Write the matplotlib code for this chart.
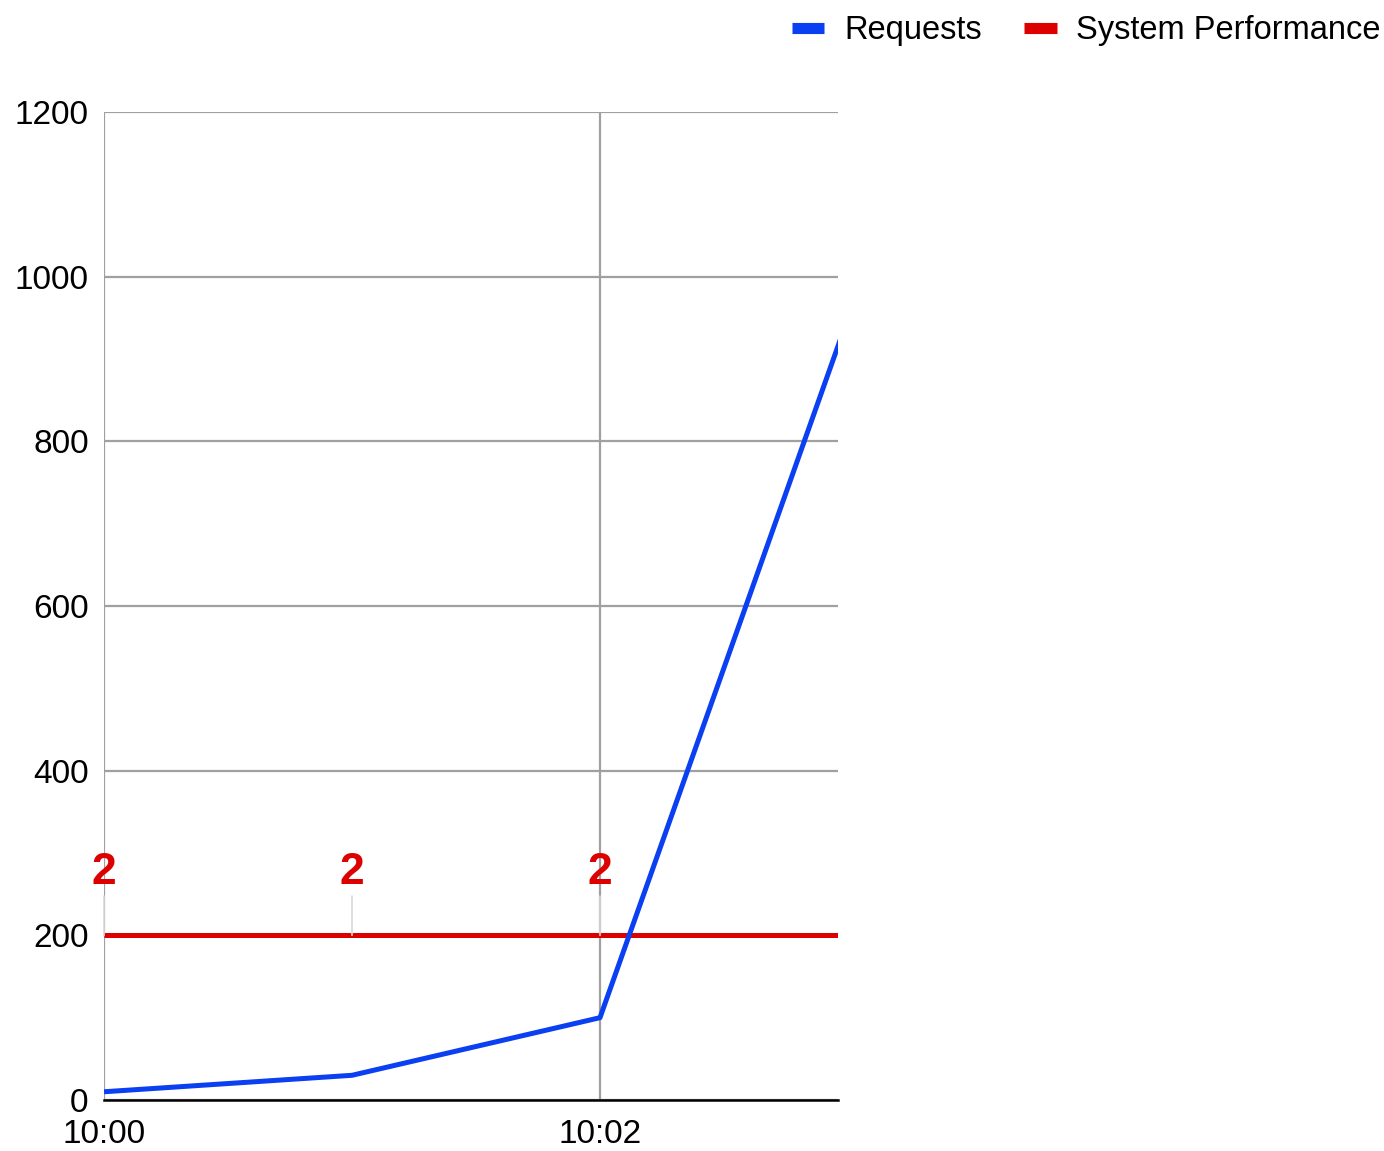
import matplotlib
matplotlib.use("Agg")
import matplotlib.pyplot as plt
from matplotlib.lines import Line2D
from matplotlib.ticker import FixedLocator, FuncFormatter

plt.rcParams['font.family'] = ['Liberation Sans', 'DejaVu Sans']

# 数据
times = ["10:00", "10:01", "10:02", "10:03"]
requests = [10, 30, 100, 950]
performance = [2, 2, 2, 2]
perf_labels = ["2", "2", "2", "2"]
PERF_SCALE = 100          # 性能分按 x100 画在请求数的刻度上
y_ticks = [0, 200, 400, 600, 800, 1000, 1200]
x_tick_labels = ["10:00", "10:02"]

BLUE = "#0a3ff2"
RED = "#dd0000"
GRID = "#a0a0a0"


def to_min(t):
    h, m = t.split(":")
    return (int(h) - 10) * 60 + int(m)


xs = [to_min(t) for t in times]
perf_y = [p * PERF_SCALE for p in performance]

fig = plt.figure(figsize=(13.84, 11.51), dpi=100)
ax = fig.add_axes([104 / 1384, 51 / 1151, 734 / 1384, 988 / 1151])

ax.plot(xs, requests, color=BLUE, lw=3.6, solid_capstyle="butt", zorder=4)
ax.plot(xs, perf_y, color=RED, lw=3.6, solid_capstyle="butt", zorder=3)

# 数值标签 + 引线
for x, y, lab in zip(xs, perf_y, perf_labels):
    ax.annotate(lab, xy=(x, y), xytext=(0, 45), textcoords="offset points",
                ha="center", va="center", fontsize=32, fontweight="bold",
                color=RED, zorder=5,
                arrowprops=dict(arrowstyle="-", color="#d8d8d8", lw=1.2,
                                shrinkA=0, shrinkB=0))

ax.set_xlim(0, 734 / 248)
ax.set_ylim(0, 1200)

ax.yaxis.set_major_locator(FixedLocator(y_ticks))
ax.xaxis.set_major_locator(FixedLocator([to_min(t) for t in x_tick_labels]))
ax.xaxis.set_major_formatter(FuncFormatter(lambda v, p: "10:%02d" % int(round(v))))
ax.tick_params(axis="both", length=0, labelsize=24, colors="black")
ax.tick_params(axis="y", pad=11)
ax.tick_params(axis="x", pad=14)

ax.grid(True, color=GRID, lw=1.6)
ax.set_axisbelow(True)
for s in ["top", "right", "left"]:
    ax.spines[s].set_visible(False)
ax.spines["bottom"].set_color("black")
ax.spines["bottom"].set_linewidth(1.8)
ax.spines["bottom"].set_zorder(6)

handles = [Line2D([], [], color=BLUE, lw=8, solid_capstyle="butt"),
           Line2D([], [], color=RED, lw=8, solid_capstyle="butt")]
fig.legend(handles, ["Requests", "System Performance"], loc="upper right",
           bbox_to_anchor=(1.0, 1.0 - 12 / 1151), ncol=2, frameon=False,
           fontsize=23.5, handlelength=1.0, handletextpad=0.6,
           columnspacing=1.3, borderaxespad=0.0, borderpad=0.1)

fig.savefig("out.png", dpi=100, facecolor="white")
